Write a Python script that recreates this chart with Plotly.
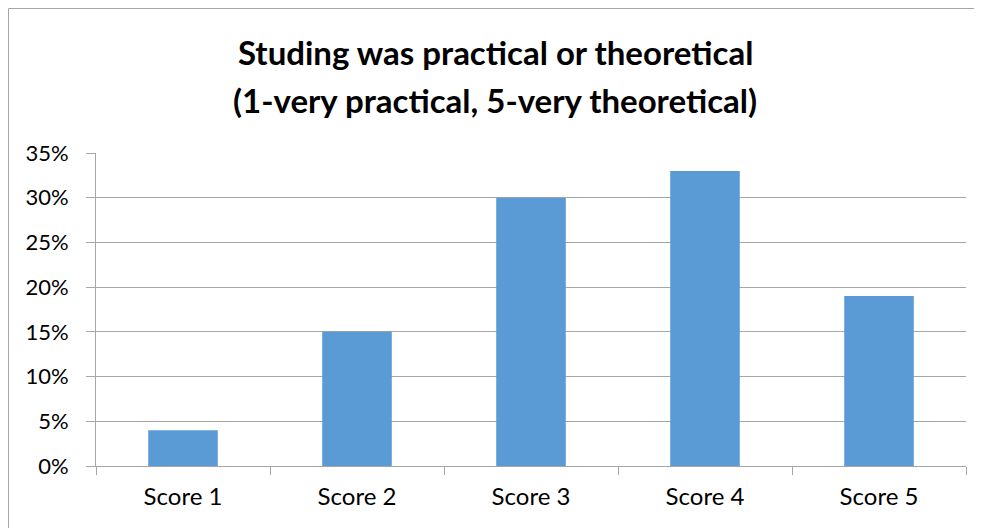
import plotly.graph_objects as go

# Chart data
categories = ["Score 1", "Score 2", "Score 3", "Score 4", "Score 5"]
shares = [0.04, 0.15, 0.30, 0.33, 0.19]
title_lines = ["Studing was practical or theoretical", "(1-very practical, 5-very theoretical)"]

BAR_COLOR = '#5b9bd5'
GRID_COLOR = '#a6a6a6'
FONT = 'Lato, Calibri, Carlito, sans-serif'

W, H = 982, 528
OFF = 8  # page body margin pushes the figure down/right
# target plot box on screen: x 96..966, y 153..466
L, T = 96 - OFF, 153 - OFF
plot_w, plot_h = 870, 313
R = W - L - plot_w
B = H - T - plot_h


def px_to_paper_x(px):
    return (px - OFF - L) / plot_w


def px_to_paper_y(py):
    return (T + OFF + plot_h - py) / plot_h


fig = go.Figure()
fig.add_trace(go.Bar(
    x=categories, y=shares,
    marker_color=BAR_COLOR,
    marker_line_width=0,
))

fig.update_layout(
    width=W, height=H,
    margin=dict(l=L, r=R, t=T, b=B),
    plot_bgcolor='white', paper_bgcolor='white',
    font=dict(family=FONT, color='#000000', size=22),
    showlegend=False,
    bargap=0.6,
)

fig.update_yaxes(
    range=[0, 0.35], dtick=0.05, tickformat='.0%',
    showgrid=True, gridcolor=GRID_COLOR, gridwidth=1,
    showline=True, linecolor=GRID_COLOR, linewidth=1,
    ticks='outside', ticklen=9, tickcolor=GRID_COLOR,
    zeroline=False, tickfont=dict(size=22), ticklabelstandoff=13,
)
fig.update_xaxes(
    showline=True, linecolor=GRID_COLOR, linewidth=1,
    ticks='outside', ticklen=8, tickcolor=GRID_COLOR,
    tickson='boundaries', showgrid=False,
    tickfont=dict(size=24), ticklabelstandoff=9,
)

# two-line title, placed like the spreadsheet original
for text, py in zip(title_lines, [52, 100]):
    fig.add_annotation(
        text=f"<b>{text}</b>", xref='paper', yref='paper',
        x=px_to_paper_x(W / 2 + 4), y=px_to_paper_y(py),
        xanchor='center', yanchor='middle', showarrow=False,
        font=dict(family=FONT, size=33, color='#000000'),
    )

# chart frame: only top and left edges are visible in the original
fx0, fy0 = px_to_paper_x(OFF + 0.5), px_to_paper_y(OFF + 0.5)
fig.add_shape(type='line', xref='paper', yref='paper',
              x0=fx0, x1=px_to_paper_x(W + OFF), y0=fy0, y1=fy0,
              line=dict(color='#a6a6a6', width=1), layer='below')
fig.add_shape(type='line', xref='paper', yref='paper',
              x0=fx0, x1=fx0, y0=fy0, y1=px_to_paper_y(H + OFF),
              line=dict(color='#a6a6a6', width=1), layer='below')

fig.write_html("out.html")
